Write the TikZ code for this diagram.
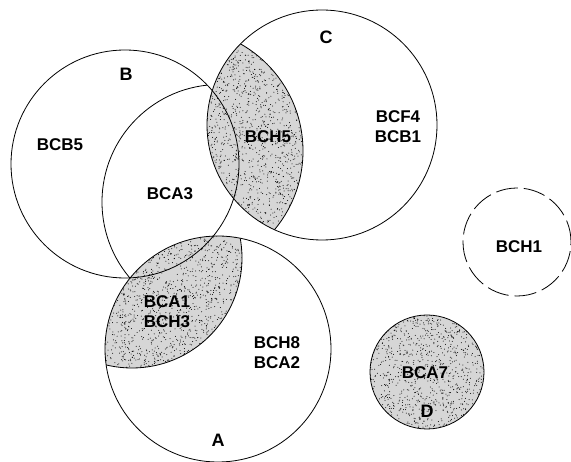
\documentclass[tikz,border=0pt]{standalone}
\usepackage{fontspec}
\setmainfont{Liberation Sans}

% random dots for the stippled regions: x0, y0, x1, y1, count
\newcommand{\stippledots}[5]{%
  \foreach \k in {1,...,#5}{\fill ({#1+rnd*(#3-#1)},{#2+rnd*(#4-#2)}) circle (0.5pt);}}

\begin{document}
\begin{tikzpicture}[
  x=1pt, y=-1pt,
  every node/.style={font=\fontsize{17}{20}\selectfont\bfseries, align=center, inner sep=1pt},
  setname/.style={font=\fontsize{18}{20}\selectfont\bfseries},
  ring/.style={draw, line width=0.8pt},
  stipple/.style={fill=black!16},
]
\pgfmathsetseed{7}

% Frame
\useasboundingbox (0,0) rectangle (571,462);

% Circle centres
\coordinate (cA) at (218,349);
\coordinate (cB) at (125,164);
\coordinate (cC) at (322,125);
\coordinate (cD) at (427,372);
\coordinate (cE) at (517,242);
% centres of the inner arcs
\coordinate (xA) at (132,258);
\coordinate (xB) at (219.5,202);
\coordinate (xC) at (180,151);

% Shaded lens in A
\begin{scope}
  \clip (cA) circle (113pt);
  \clip (xA) circle (110pt);
  \fill[stipple] (100,225) rectangle (250,372);
  \stippledots{100}{225}{250}{372}{1700}
\end{scope}
\begin{scope}
  \clip (cA) circle (113pt);
  \draw[ring] (xA) circle (110pt);
\end{scope}

% Shaded lens in C
\begin{scope}
  \clip (cC) circle (115pt);
  \clip (xC) circle (123pt);
  \fill[stipple] (200,35) rectangle (310,240);
  \stippledots{200}{35}{310}{240}{1700}
\end{scope}
\begin{scope}
  \clip (cC) circle (115pt);
  \draw[ring] (xC) circle (123pt);
\end{scope}

% Inner arc in B
\begin{scope}
  \clip (cB) circle (114pt);
  \draw[ring] (xB) circle (117.5pt);
\end{scope}

% Circle D, stippled
\begin{scope}
  \clip (cD) circle (57pt);
  \fill[stipple] (368,313) rectangle (486,431);
  \stippledots{368}{313}{486}{431}{1100}
\end{scope}

% Outer circles
\draw[ring] (cB) circle (114pt);
\draw[ring] (cC) circle (115pt);
\draw[ring] (cA) circle (113pt);
\draw[ring] (cD) circle (57pt);
\draw[ring, dash pattern=on 22pt off 6pt] (cE) circle (54pt);

% Set names
\node[setname] (labB) at (126,74) {B};
\node[setname] (labC) at (326,37) {C};
\node[setname] (labA) at (218,440) {A};
\node[setname] (labD) at (427,411) {D};

% Members
\node (bcb5) at (60,145) {BCB5};
\node (bca3) at (170,194) {BCA3};
\node (bch5) at (268,137) {BCH5};
\node (bcf4) at (398,127) {BCF4\\BCB1};
\node (bca1) at (167,312) {BCA1\\BCH3};
\node (bch8) at (277,353) {BCH8\\BCA2};
\node (bca7) at (425,373) {BCA7};
\node (bch1) at (519,247) {BCH1};

\end{tikzpicture}
\end{document}
